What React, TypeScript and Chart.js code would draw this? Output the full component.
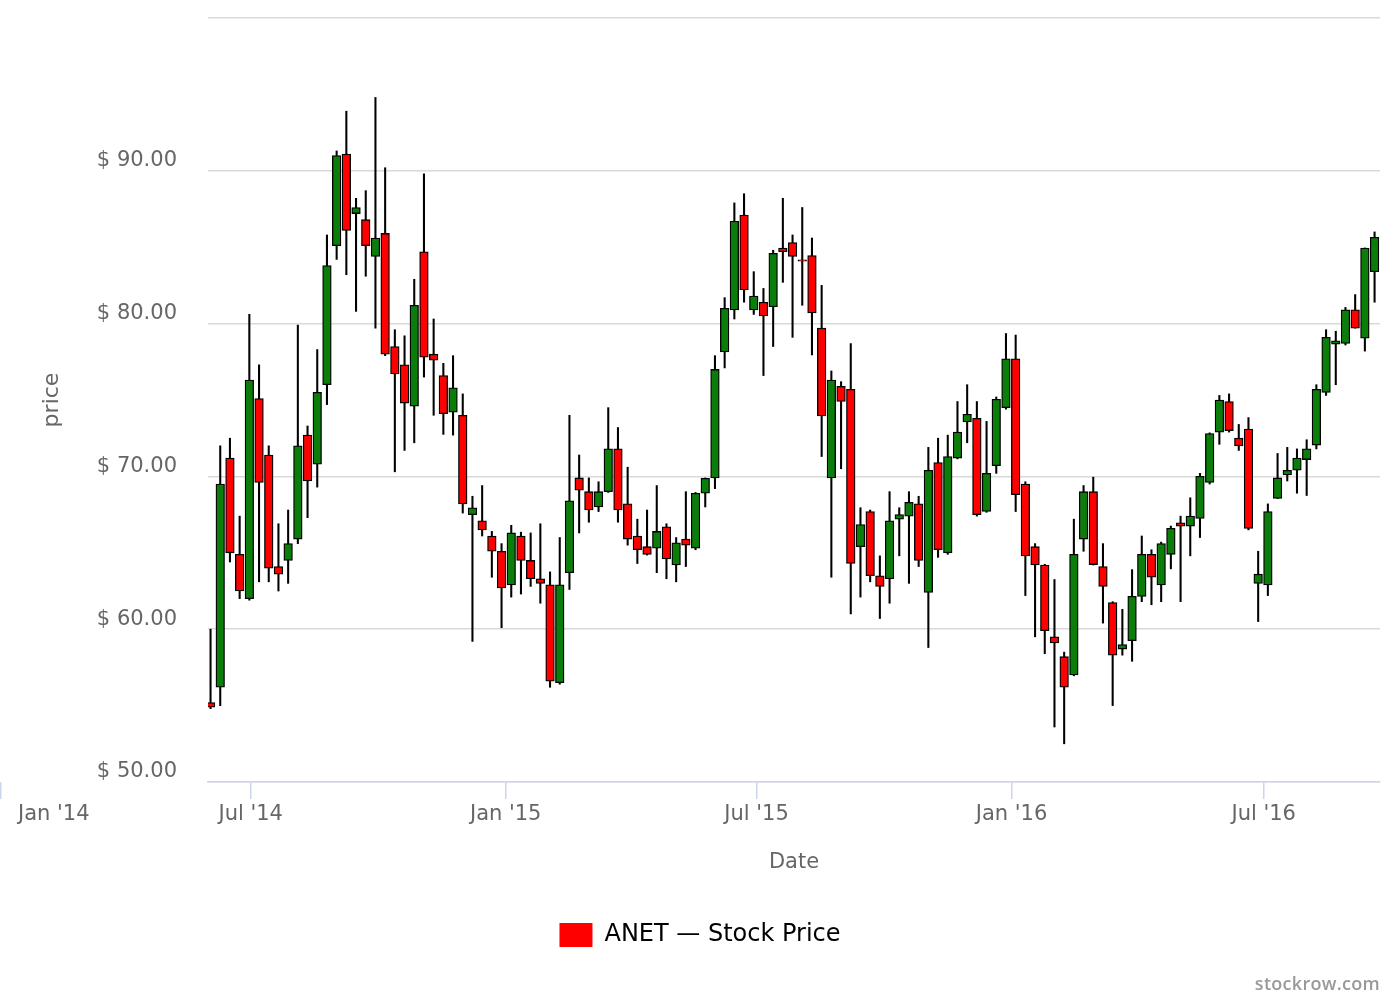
import React, { useEffect, useRef } from 'react';
import { Chart, registerables } from 'chart.js';

Chart.register(...registerables);

// ---- data -------------------------------------------------------------
const weeks = [
  '2014-06-02', '2014-06-09', '2014-06-16', '2014-06-23', '2014-06-30', '2014-07-07', '2014-07-14', '2014-07-21',
  '2014-07-28', '2014-08-04', '2014-08-11', '2014-08-18', '2014-08-25', '2014-09-01', '2014-09-08', '2014-09-15',
  '2014-09-22', '2014-09-29', '2014-10-06', '2014-10-13', '2014-10-20', '2014-10-27', '2014-11-03', '2014-11-10',
  '2014-11-17', '2014-11-24', '2014-12-01', '2014-12-08', '2014-12-15', '2014-12-22', '2014-12-29', '2015-01-05',
  '2015-01-12', '2015-01-19', '2015-01-26', '2015-02-02', '2015-02-09', '2015-02-16', '2015-02-23', '2015-03-02',
  '2015-03-09', '2015-03-16', '2015-03-23', '2015-03-30', '2015-04-06', '2015-04-13', '2015-04-20', '2015-04-27',
  '2015-05-04', '2015-05-11', '2015-05-18', '2015-05-25', '2015-06-01', '2015-06-08', '2015-06-15', '2015-06-22',
  '2015-06-29', '2015-07-06', '2015-07-13', '2015-07-20', '2015-07-27', '2015-08-03', '2015-08-10', '2015-08-17',
  '2015-08-24', '2015-08-31', '2015-09-07', '2015-09-14', '2015-09-21', '2015-09-28', '2015-10-05', '2015-10-12',
  '2015-10-19', '2015-10-26', '2015-11-02', '2015-11-09', '2015-11-16', '2015-11-23', '2015-11-30', '2015-12-07',
  '2015-12-14', '2015-12-21', '2015-12-28', '2016-01-04', '2016-01-11', '2016-01-18', '2016-01-25', '2016-02-01',
  '2016-02-08', '2016-02-15', '2016-02-22', '2016-02-29', '2016-03-07', '2016-03-14', '2016-03-21', '2016-03-28',
  '2016-04-04', '2016-04-11', '2016-04-18', '2016-04-25', '2016-05-02', '2016-05-09', '2016-05-16', '2016-05-23',
  '2016-05-30', '2016-06-06', '2016-06-13', '2016-06-20', '2016-06-27', '2016-07-04', '2016-07-11', '2016-07-18',
  '2016-07-25', '2016-08-01', '2016-08-08', '2016-08-15', '2016-08-22', '2016-08-29', '2016-09-05', '2016-09-12',
  '2016-09-19',
];

const opens = [
  55.2, 56.2, 71.2, 64.9, 62.0, 75.1, 71.4, 64.1, 64.5, 65.9, 72.7, 70.8, 76.0, 85.1, 91.1, 87.2,
  86.8, 84.4, 85.9, 78.5, 77.3, 74.6, 84.7, 78.0, 76.6, 74.2, 74.0, 67.5, 67.1, 66.1, 65.1, 62.9,
  66.1, 64.5, 63.3, 62.9, 56.5, 63.7, 69.9, 69.0, 68.0, 69.0, 71.8, 68.2, 66.1, 65.4, 65.3, 66.7,
  64.2, 65.9, 65.3, 68.9, 69.9, 78.15, 80.9, 87.1, 80.9, 81.4, 81.1, 84.95, 85.3, 84.15, 84.45, 79.7,
  69.9, 75.9, 75.7, 65.4, 67.7, 63.5, 63.3, 67.2, 67.4, 68.2, 62.4, 70.9, 65.0, 71.2, 73.56, 73.8,
  67.7, 70.7, 74.5, 77.7, 69.5, 65.4, 64.2, 59.5, 58.2, 57.0, 65.9, 69.0, 64.1, 61.75, 58.7, 59.25,
  62.15, 64.9, 62.9, 64.9, 66.96, 66.75, 67.25, 69.6, 72.9, 74.9, 72.5, 73.1, 63.0, 62.9, 68.56, 70.1,
  70.4, 71.1, 72.05, 75.5, 78.66, 78.7, 80.9, 79.05, 83.4,
];

const highs = [
  60.0, 72.0, 72.5, 67.4, 80.6, 77.3, 72.0, 66.9, 67.8, 79.9, 73.3, 78.3, 85.8, 91.3, 93.9, 88.2,
  88.7, 94.8, 90.2, 79.6, 79.2, 82.9, 89.8, 80.3, 77.4, 77.9, 75.4, 68.7, 69.4, 66.4, 65.6, 66.8,
  66.35, 66.3, 66.9, 63.75, 66.0, 74.0, 71.4, 69.9, 69.65, 74.5, 73.2, 70.6, 67.2, 67.8, 69.4, 66.9,
  66.0, 69.0, 68.95, 69.9, 77.9, 81.7, 87.9, 88.5, 83.4, 82.3, 84.8, 88.2, 85.8, 87.6, 85.6, 82.5,
  76.9, 76.2, 78.7, 67.95, 67.8, 64.8, 69.0, 67.95, 69.0, 68.7, 71.9, 72.5, 72.7, 74.9, 76.0, 74.9,
  73.6, 75.2, 79.35, 79.25, 69.65, 65.6, 64.25, 63.25, 58.5, 67.2, 69.4, 69.95, 65.6, 61.8, 61.3, 63.9,
  66.1, 65.2, 65.7, 66.75, 67.4, 68.6, 70.2, 72.85, 75.3, 75.4, 73.4, 73.85, 65.1, 68.2, 71.5, 71.9,
  71.8, 72.4, 76.0, 79.6, 79.5, 81.06, 81.9, 84.95, 86.0,
];

const lows = [
  54.8, 55.0, 64.4, 62.0, 61.9, 63.1, 63.1, 62.5, 63.0, 65.6, 67.3, 69.3, 74.7, 84.2, 83.2, 80.8,
  83.1, 79.7, 77.9, 70.3, 71.7, 72.2, 76.5, 74.0, 72.75, 72.7, 67.6, 59.2, 66.1, 63.4, 60.1, 62.1,
  62.3, 62.8, 61.7, 56.2, 56.4, 62.6, 66.3, 67.0, 67.7, 68.95, 67.0, 65.5, 64.3, 64.85, 63.7, 63.3,
  63.1, 64.1, 65.2, 68.0, 69.2, 77.1, 80.3, 81.4, 80.6, 76.6, 78.5, 82.7, 79.1, 81.2, 77.95, 71.3,
  63.4, 70.5, 61.0, 62.1, 63.1, 60.7, 61.7, 64.8, 63.0, 64.1, 58.8, 64.7, 64.9, 71.15, 72.2, 67.4,
  67.65, 70.2, 74.4, 67.7, 62.2, 59.5, 58.4, 53.6, 52.5, 56.95, 65.1, 64.2, 60.4, 55.0, 58.3, 57.9,
  61.8, 61.6, 61.8, 63.95, 61.8, 64.8, 66.0, 69.5, 72.1, 72.9, 71.7, 66.5, 60.5, 62.2, 68.55, 69.7,
  68.9, 68.75, 71.8, 75.3, 76.0, 78.6, 79.7, 78.2, 81.4,
];

const closes = [
  54.9, 69.5, 65.0, 62.5, 76.3, 69.6, 64.0, 63.6, 65.6, 72.0, 69.7, 75.5, 83.8, 91.0, 86.1, 87.6,
  85.1, 85.6, 78.0, 76.7, 74.8, 81.2, 77.8, 77.6, 74.1, 75.8, 68.2, 67.95, 66.5, 65.1, 62.7, 66.3,
  64.5, 63.3, 63.0, 56.6, 62.9, 68.4, 69.1, 67.8, 69.0, 71.8, 67.8, 65.9, 65.2, 64.9, 66.4, 64.6,
  65.65, 65.5, 68.9, 69.87, 77.0, 81.0, 86.7, 82.2, 81.8, 80.5, 84.6, 84.7, 84.4, 84.08, 80.7, 73.95,
  76.3, 74.9, 64.3, 66.85, 63.5, 62.8, 67.1, 67.5, 68.3, 64.5, 70.4, 65.2, 71.3, 72.9, 74.07, 67.5,
  70.2, 75.05, 77.7, 68.8, 64.8, 64.2, 59.9, 59.1, 56.2, 64.9, 69.0, 64.23, 62.8, 58.3, 59.0, 62.15,
  64.9, 63.4, 65.6, 66.6, 66.74, 67.4, 70.0, 72.8, 75.0, 73.0, 72.0, 66.6, 63.6, 67.7, 69.9, 70.4,
  71.2, 71.8, 75.7, 79.1, 78.87, 80.9, 79.7, 84.95, 85.65,
];

const xTickDates = ['2014-07-01', '2015-01-01', '2015-07-01', '2016-01-01', '2016-07-01'];
const xTickLabels = ["Jul '14", "Jan '15", "Jul '15", "Jan '16", "Jul '16"];
const outsideTickDate = '2014-01-01';
const outsideTickLabel = "Jan '14";
const yTickValues = [50, 60, 70, 80, 90, 100];
const seriesName = 'ANET \u2014 Stock Price';
const xTitle = 'Date';
const yTitle = 'price';
const credit = 'stockrow.com';

// ---- styling -----------------------------------------------------------
const FONT = '"DejaVu Sans", Verdana, sans-serif';
const UP = '#0b7d0b';
const DOWN = '#ff0000';
const AXIS = '#ccd6eb';
const GRID = '#d9d9d9';
const LABEL = '#666666';
const X_LABEL_PAD = 3;

const ts = (d: string) => Date.parse(d + 'T00:00:00Z');
const X_MIN = Date.UTC(2014, 4, 31, 4);
const X_MAX = Date.UTC(2016, 8, 22, 22);

const outsideTickPlugin = {
  id: 'outsideTick',
  afterDraw(chart: any) {
    const s = chart.scales.x;
    const ctx = chart.ctx;
    const px = Math.max(s.getPixelForValue(ts(outsideTickDate)), 0.75);
    ctx.save();
    ctx.strokeStyle = AXIS;
    ctx.lineWidth = 1.5;
    ctx.beginPath();
    ctx.moveTo(px, s.top);
    ctx.lineTo(px, s.top + 17);
    ctx.stroke();
    ctx.font = `21px ${FONT}`;
    ctx.fillStyle = LABEL;
    ctx.textAlign = 'left';
    ctx.textBaseline = 'middle';
    const w = ctx.measureText(outsideTickLabel).width;
    ctx.fillText(outsideTickLabel, Math.max(px - w / 2, 18), s.top + 17 + X_LABEL_PAD + 12.6);
    ctx.restore();
  },
};

export default function App() {
  const ref = useRef<HTMLCanvasElement | null>(null);

  useEffect(() => {
    if (!ref.current) return;
    Chart.defaults.font.family = FONT;
    const colors = opens.map((o, i) => (closes[i] >= o ? UP : DOWN));
    const chart = new Chart(ref.current, {
      type: 'bar',
      data: {
        datasets: [
          {
            label: seriesName,
            data: weeks.map((d, i) => ({ x: ts(d), y: [opens[i], closes[i]] })) as any,
            backgroundColor: colors,
            borderColor: '#000000',
            borderWidth: 1.3,
            borderSkipped: false,
            barThickness: 8.6,
            minBarLength: 1.5,
            grouped: false,
            order: 0,
          } as any,
          {
            label: 'wick',
            data: weeks.map((d, i) => ({ x: ts(d), y: [lows[i], highs[i]] })) as any,
            backgroundColor: '#000000',
            borderWidth: 0,
            barThickness: 1.4,
            grouped: false,
            order: 1,
          } as any,
        ],
      },
      options: {
        responsive: false,
        animation: false,
        events: [],
        layout: { padding: { top: 18, bottom: 43, left: 0, right: 0 } },
        scales: {
          x: {
            type: 'linear',
            min: X_MIN,
            max: X_MAX,
            offset: false,
            afterFit: (s: any) => { s.height = 100; },
            afterBuildTicks: (s: any) => { s.ticks = xTickDates.map((d) => ({ value: ts(d) })); },
            ticks: {
              autoSkip: false,
              maxRotation: 0,
              padding: X_LABEL_PAD,
              color: LABEL,
              font: { size: 21 },
              callback: (v: any) => {
                const i = xTickDates.findIndex((d) => ts(d) === v);
                return i >= 0 ? xTickLabels[i] : '';
              },
            },
            grid: { display: true, offset: false, drawOnChartArea: false, drawTicks: true, tickLength: 17, color: AXIS, lineWidth: 1.5 },
            border: { display: true, color: AXIS, width: 1.5 },
            title: { display: true, text: xTitle, color: LABEL, font: { size: 21 }, padding: { top: 0, bottom: 7 } },
          },
          y: {
            type: 'linear',
            position: 'left',
            min: 50,
            max: 100,
            afterFit: (s: any) => { s.width = 208; },
            afterBuildTicks: (s: any) => { s.ticks = yTickValues.map((v) => ({ value: v })); },
            ticks: {
              padding: 0,
              labelOffset: -10,
              color: LABEL,
              font: { size: 21 },
              callback: (v: any) => (v === 100 ? '' : '$ ' + Number(v).toFixed(2)),
            },
            grid: { color: GRID, lineWidth: 1.5, drawTicks: true, tickLength: 31, tickColor: 'rgba(0,0,0,0)' },
            border: { display: false },
            title: { display: true, text: yTitle, color: LABEL, font: { size: 22 }, padding: { top: 39, bottom: 0 } },
          },
          yRight: {
            type: 'linear',
            position: 'right',
            min: 50,
            max: 100,
            afterFit: (s: any) => { s.width = 20; },
            ticks: { display: false },
            grid: { display: false },
            border: { display: false },
          },
        },
        plugins: {
          tooltip: { enabled: false },
          legend: {
            display: true,
            position: 'bottom',
            labels: {
              color: '#333333',
              font: { size: 24 },
              boxWidth: 33,
              boxHeight: 24,
              padding: 41,
              generateLabels: () => [
                { text: seriesName, fillStyle: DOWN, strokeStyle: DOWN, lineWidth: 0, hidden: false, datasetIndex: 0 } as any,
              ],
            },
          },
        },
      } as any,
      plugins: [outsideTickPlugin],
    });
    return () => chart.destroy();
  }, []);

  return (
    <div style={{ position: 'absolute', left: 0, top: 0, width: 1400, height: 1000, background: '#ffffff' }}>
      <canvas ref={ref} width={1400} height={1000} style={{ width: 1400, height: 1000, display: 'block' }} />
      <div
        style={{
          position: 'absolute',
          right: 20,
          top: 970,
          fontFamily: '"Open Sans", sans-serif',
          fontWeight: 600,
          fontSize: 18,
          lineHeight: '26px',
          color: '#999999',
          letterSpacing: 0.3,
        }}
      >
        {credit}
      </div>
    </div>
  );
}
